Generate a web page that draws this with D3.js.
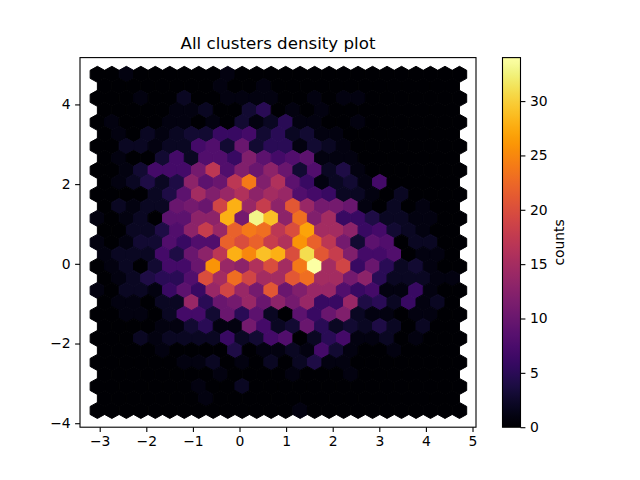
<!DOCTYPE html>
<html>
<head>
<meta charset="utf-8">
<script src="https://cdn.jsdelivr.net/npm/d3@7"></script>
<style>
html, body { margin: 0; padding: 0; background: #fff; }
svg { display: block; }
text { font-family: "DejaVu Sans", sans-serif; fill: #000; }
</style>
</head>
<body>
<svg id="chart" width="640" height="480"></svg>
<script>
//Tick labels
const xTicks = [-3, -2, -1, 0, 1, 2, 3, 4, 5];
const yTicks = [-4, -2, 0, 2, 4];
const colorTicks = [0, 5, 10, 15, 20, 25, 30];
const maxCount = 34;

//Where the hex grid sits in data units
const gridX = [-3.05, 4.72];
const gridY = [-3.68, 4.755];

//Hex counts, top row first.
//Rows take turns: 26 cells, then 25 cells shifted half a step right
const counts = [
  [0,0,1,0,0,0,0,0,0,1,0,0,0,0,0,0,0,0,0,0,0,0,0,0,0,0],
  [0,0,0,0,0,0,0,0,1,0,0,1,0,0,0,0,0,0,0,0,0,0,0,0,0],
  [0,0,0,1,0,0,2,0,0,1,1,1,1,0,0,1,0,1,1,0,0,0,0,0,0,0],
  [0,0,0,0,0,1,1,2,0,0,3,5,0,1,0,1,0,0,0,0,0,0,0,0,0],
  [0,1,0,0,0,1,1,0,1,0,3,1,2,5,1,1,0,0,1,0,0,0,0,0,0,0],
  [0,1,0,2,1,2,3,3,6,6,7,3,5,2,3,1,1,0,0,0,0,0,0,0,0],
  [0,0,2,2,1,2,2,7,8,3,10,3,5,5,1,3,2,1,0,0,0,0,0,0,0,0],
  [0,1,0,0,3,7,2,8,8,6,12,9,7,8,9,1,1,1,0,0,0,0,0,0,0],
  [0,0,1,3,7,7,7,11,17,8,12,10,13,10,3,8,2,4,1,0,0,0,0,0,0,0],
  [0,1,2,4,2,4,13,9,10,17,24,12,16,9,6,1,2,3,1,7,0,0,0,0,0],
  [0,0,0,0,2,4,9,15,12,14,16,13,15,14,8,7,6,2,2,1,0,2,0,0,0,0],
  [0,2,1,2,2,10,11,10,19,28,14,18,13,21,14,11,11,10,1,0,2,0,1,0,0],
  [1,0,1,2,0,9,9,13,13,28,11,33,29,13,23,12,15,6,6,4,2,2,1,1,0,0],
  [0,0,2,2,4,8,13,18,14,22,24,23,17,20,27,15,15,13,6,7,3,2,1,0,0],
  [1,0,1,3,3,8,6,8,8,22,20,22,18,16,26,22,17,11,3,9,8,0,2,2,0,0],
  [1,2,2,2,7,4,10,13,17,28,25,29,28,20,31,21,18,12,7,7,8,0,1,1,0],
  [0,1,2,0,3,7,7,10,26,14,13,16,20,15,24,34,15,19,6,10,5,2,3,1,0,0],
  [0,1,2,4,5,5,8,20,15,23,19,15,15,21,23,15,15,11,13,5,2,2,2,1,1],
  [1,0,2,2,1,6,9,6,14,19,14,11,21,10,12,14,14,8,6,7,1,1,6,1,0,0],
  [0,1,1,0,2,2,14,5,10,11,14,10,13,11,14,6,6,14,4,5,2,6,1,2,0],
  [0,0,1,1,0,2,7,7,3,10,5,9,2,0,9,6,10,12,2,1,1,0,1,1,0,0],
  [0,0,0,0,1,1,3,5,1,1,11,7,2,3,10,5,2,3,2,4,2,0,2,0,0],
  [0,0,0,2,1,2,2,2,2,6,2,3,7,8,0,2,5,7,1,1,2,0,1,0,0,0],
  [0,0,0,0,1,0,0,0,0,4,0,1,1,2,1,7,3,1,0,0,1,0,0,0,0],
  [0,0,0,0,0,0,1,1,2,0,1,0,2,0,2,4,1,1,0,0,0,0,0,0,0,0],
  [0,0,0,0,0,0,0,0,1,0,0,0,0,1,0,0,0,1,0,0,0,0,0,0,0],
  [0,0,0,0,0,0,0,1,0,0,2,0,0,0,0,0,0,0,0,0,0,0,0,0,0,0],
  [0,0,0,0,0,0,0,1,0,0,0,0,0,0,0,0,0,0,0,0,0,0,0,0,0],
  [0,0,0,0,0,0,0,0,0,0,0,0,0,0,1,0,0,0,0,0,0,0,0,0,0,0]
];

const svg = d3.select("#chart");

//Plot box and colorbar box in pixels, same as the matplotlib layout
const plot = { left: 80, right: 476, top: 57.6, bottom: 427.2 };
const bar = { left: 502.5, right: 520.5 };

const x = d3.scaleLinear().domain([-3.423, 5.075]).range([plot.left, plot.right]);
const y = d3.scaleLinear().domain([-4.1, 5.175]).range([plot.bottom, plot.top]);
const c = d3.scaleLinear().domain([0, maxCount]).range([plot.bottom, plot.top]);
const color = v => d3.interpolateInferno(v / maxCount);

//Size of one grid step
const sx = (gridX[1] - gridX[0]) / 25;
const sy = (gridY[1] - gridY[0]) / 14;

//Hexagon corners around a center, in data units
function hexPath(cx, cy) {
  const corners = [[.5, -.5], [.5, .5], [0, 1], [-.5, .5], [-.5, -.5], [0, -1]];
  return d3.line()(corners.map(p => [x(cx + p[0] * sx), y(cy + p[1] * sy / 3)])) + "Z";
}

//Turn the rows into one flat list of cells
let cells = [];
counts.forEach((row, r) => {
  row.forEach((v, i) => {
    cells.push({
      cx: gridX[0] + (i + (r % 2 ? 0.5 : 0)) * sx,
      cy: gridY[1] - r * sy / 2,
      v: v
    });
  });
});

//Thick enough stroke so no seams show between hexes
svg.append("g").selectAll("path")
  .data(cells)
  .enter()
  .append("path")
  .attr("d", d => hexPath(d.cx, d.cy))
  .attr("fill", d => color(d.v))
  .attr("stroke", d => color(d.v))
  .attr("stroke-width", 1);

//Axes, ticks are 3.5pt long like matplotlib
function styleAxis(g) {
  g.select(".domain").remove();
  g.selectAll("line").attr("stroke", "#000").attr("stroke-width", 1.1);
  g.selectAll("text").attr("font-size", 13.9).attr("font-family", '"DejaVu Sans", sans-serif').attr("fill", "#000");
}
const minus = d => String(d).replace("-", "\u2212");

svg.append("g")
  .attr("transform", `translate(0,${plot.bottom})`)
  .call(d3.axisBottom(x).tickValues(xTicks).tickSize(4.9).tickPadding(4.5).tickFormat(minus))
  .call(styleAxis);

svg.append("g")
  .attr("transform", `translate(${plot.left},0)`)
  .call(d3.axisLeft(y).tickValues(yTicks).tickSize(4.9).tickPadding(4.5).tickFormat(minus))
  .call(styleAxis);

svg.append("rect")
  .attr("x", plot.left)
  .attr("y", plot.top)
  .attr("width", plot.right - plot.left)
  .attr("height", plot.bottom - plot.top)
  .attr("fill", "none")
  .attr("stroke", "#000")
  .attr("stroke-width", 1.1);

svg.append("text")
  .attr("x", (plot.left + plot.right) / 2)
  .attr("y", 49)
  .attr("text-anchor", "middle")
  .attr("font-size", 16.67)
  .text("All clusters density plot");

//Colorbar as one gradient, strips gave visible bands
const gradient = svg.append("defs").append("linearGradient")
  .attr("id", "inferno")
  .attr("x1", 0).attr("y1", 1)
  .attr("x2", 0).attr("y2", 0);

gradient.selectAll("stop")
  .data(d3.range(0, 1.001, 1 / 64))
  .enter()
  .append("stop")
  .attr("offset", d => d)
  .attr("stop-color", d => d3.interpolateInferno(Math.min(d, 1)));

svg.append("rect")
  .attr("x", bar.left)
  .attr("y", plot.top)
  .attr("width", bar.right - bar.left)
  .attr("height", plot.bottom - plot.top)
  .attr("fill", "url(#inferno)")
  .attr("stroke", "#000")
  .attr("stroke-width", 1.1);

svg.append("g")
  .attr("transform", `translate(${bar.right},0)`)
  .call(d3.axisRight(c).tickValues(colorTicks).tickSize(4.9).tickPadding(4.5))
  .call(styleAxis);

svg.append("text")
  .attr("transform", "translate(564,242.4) rotate(-90)")
  .attr("text-anchor", "middle")
  .attr("font-size", 13.9)
  .text("counts");
</script>
</body>
</html>
